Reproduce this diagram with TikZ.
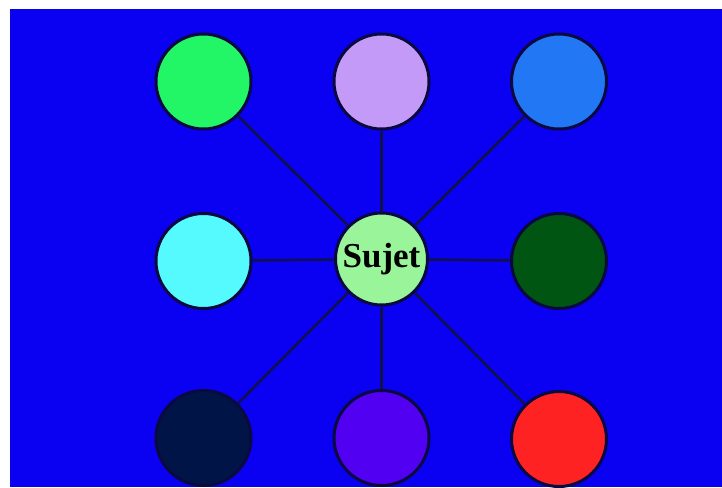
\documentclass[tikz,border=0pt]{standalone}
\usepackage{fontspec}
\setmainfont{Liberation Serif}
\definecolor{bg}{HTML}{0A00F2}
\definecolor{edge}{HTML}{0A0A40}
\definecolor{link}{HTML}{10104A}
\definecolor{cA}{HTML}{22F566}
\definecolor{cB}{HTML}{C49AF8}
\definecolor{cC}{HTML}{2277F5}
\definecolor{cD}{HTML}{55FAFF}
\definecolor{cE}{HTML}{005512}
\definecolor{cF}{HTML}{001448}
\definecolor{cG}{HTML}{5200F2}
\definecolor{cH}{HTML}{FF2222}
\definecolor{cS}{HTML}{9AF59A}
\begin{document}
\begin{tikzpicture}[x=1pt,y=-1pt,
  bubble/.style={circle,draw=edge,line width=3pt,minimum size=95pt,inner sep=0pt},
  link/.style={draw=link,line width=2.5pt}]
\useasboundingbox (0,0) rectangle (722,487);
\fill[white] (0,0) rectangle (722,487);
\fill[bg] (10,9) rectangle (722,487);
\node[bubble,fill=cS,minimum size=92pt] (s) at (381.5,259) {\fontsize{35}{40}\selectfont\bfseries Sujet};
\node[bubble,fill=cA] (a) at (203.5,81.5) {};
\node[bubble,fill=cB] (b) at (381.5,81.5) {};
\node[bubble,fill=cC] (c) at (559,81.5) {};
\node[bubble,fill=cD] (d) at (203.5,261) {};
\node[bubble,fill=cE] (e) at (559,261) {};
\node[bubble,fill=cF] (f) at (203.5,438) {};
\node[bubble,fill=cG] (g) at (381.5,438) {};
\node[bubble,fill=cH] (h) at (559,439) {};
\foreach \n in {a,b,c,d,e,f,g,h} {\path[link] (s) -- (\n);}
\end{tikzpicture}
\end{document}
